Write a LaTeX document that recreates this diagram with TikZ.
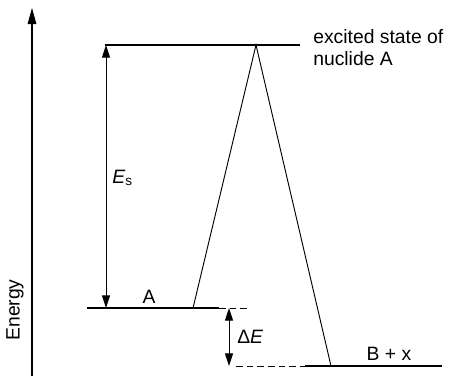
\documentclass[tikz,border=0pt]{standalone}
\usepackage{fontspec}
\setmainfont{Liberation Sans}
\usetikzlibrary{arrows.meta, positioning, calc}

\begin{document}
\begin{tikzpicture}[x=0.75pt, y=-0.75pt, >={Triangle[length=9.5pt, width=6pt]},
    level/.style={line width=2pt},
    trans/.style={line width=0.7pt},
    guide/.style={dashed, line width=0.6pt, dash pattern=on 5pt off 3pt},
    lbl/.style={inner sep=0pt, font=\fontsize{14.5}{16.5}\selectfont}]

\useasboundingbox (0,0) rectangle (449,376);

% === Energieachse ===
\coordinate (axB) at (32,376);
\coordinate (axT) at (32,8);
\draw[-{Triangle[length=12pt, width=6.5pt]}, line width=0.8pt] (axB) -- (axT);
\node[lbl, rotate=90] (energy) at (15,310) {Energy};

% === Niveaus ===
\coordinate (exL) at (105,45);
\coordinate (exR) at (300,45);
\coordinate (aL) at (87,308);
\coordinate (aR) at (219,308);
\coordinate (bL) at (305,366);
\coordinate (bR) at (442,366);
\draw[level, line width=1.6pt] (exL) -- (exR);
\draw[level] (aL) -- (aR);
\draw[level] (bL) -- (bR);

\node[lbl, anchor=north west, align=left] (exlbl) at (313,29)
    {excited state of\\nuclide A};
\node[lbl, anchor=base] (albl) at (149,303) {A};
\node[lbl, anchor=base] (blbl) at (389,360) {B + x};

% === Uebergaenge ===
\coordinate (aT) at (193,308);
\coordinate (peak) at (256,45);
\coordinate (bT) at (331,366);
\draw[trans] (aT) -- (peak) -- (bT);

% === Hilfslinien ===
\coordinate (aD) at (250,308);
\coordinate (bD) at (236,366);
\draw[guide] (aR) -- (aD);
\draw[guide] (bD) -- (bL);

% === Energiedifferenzen ===
\coordinate (esT) at (106,45);
\coordinate (esB) at (106,308);
\draw[<->, trans] (esT) -- (esB);
\node[lbl, anchor=base west] (es) at (112,183) {\textit{E}\textsubscript{s}};

\coordinate (deT) at (229,308);
\coordinate (deB) at (229,366);
\draw[<->, trans] (deT) -- (deB);
\node[lbl, anchor=base west] (de) at (237,343) {Δ\textit{E}};

\end{tikzpicture}
\end{document}
